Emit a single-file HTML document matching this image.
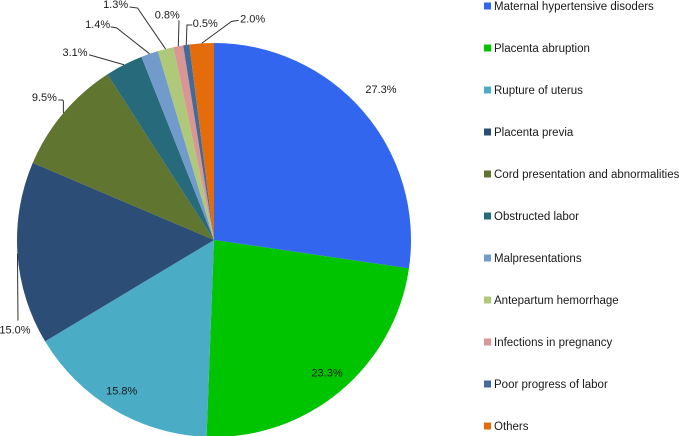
<!DOCTYPE html>
<html lang="en">
<head>
<meta charset="utf-8">
<title>Causes pie chart</title>
<style>
html,body{margin:0;padding:0;background:#fff;}
body{width:679px;height:436px;overflow:hidden;}
svg{display:block;filter:blur(0.3px);}
text{font-family:"Liberation Sans",sans-serif;fill:#1a1a1a;}
</style>
</head>
<body>
<svg id="chart" xmlns="http://www.w3.org/2000/svg" width="679" height="436" viewBox="0 0 679 436"></svg>
<script>
const categories = ["Maternal hypertensive disoders","Placenta abruption","Rupture of uterus","Placenta previa","Cord presentation and abnormalities","Obstructed labor","Malpresentations","Antepartum hemorrhage","Infections in pregnancy","Poor progress of labor","Others"];
const values = [27.3,23.3,15.8,15.0,9.5,3.1,1.4,1.3,0.8,0.5,2.0];
const valueLabels = ["27.3%","23.3%","15.8%","15.0%","9.5%","3.1%","1.4%","1.3%","0.8%","0.5%","2.0%"];
const colors = ["#3366ee","#00c400","#4bacc6","#2c4d75","#5f7530","#276a7c","#729aca","#afc97a","#d99694","#426a9b","#e46c0a"];

const NS = "http://www.w3.org/2000/svg";
const svg = document.getElementById("chart");
const CX = 214, CY = 240, R = 197;
const total = values.reduce(function (a, b) { return a + b; }, 0);

function angleOf(v) { return v / total * Math.PI * 2; }
function polarX(a, r) { return CX + r * Math.sin(a); }
function polarY(a, r) { return CY - r * Math.cos(a); }

/* Label placement relative to each slice's outer-edge midpoint: [label dx, label dy, leader points...] */
const labelLayout = [
  {dx:18, dy:-22, leader:[]},
  {dx:-13, dy:-19, leader:[]},
  {dx:8, dy:-19, leader:[]},
  {dx:-2.5, dy:76, leader:[[0.5,67]]},
  {dx:-19, dy:-16, leader:[[0,-12],[-1,-13],[-5,-13]]},
  {dx:-49, dy:-13, leader:[[-35,-10]]},
  {dx:-52, dy:-30, leader:[[-33,-26],[-39,-27]]},
  {dx:-50, dy:-45, leader:[[-28,-41],[-36,-42]]},
  {dx:-11, dy:-32, leader:[[0.7,-26]]},
  {dx:19, dy:-22, leader:[[0.7,-20],[6,-20]]},
  {dx:51, dy:-25, leader:[[30,-22],[37,-23]]}
];

let cumulative = 0;
const slices = document.createElementNS(NS, "g");


svg.appendChild(slices);
const labels = document.createElementNS(NS, "g");


svg.appendChild(labels);

values.forEach(function (v, i) {
  const a0 = angleOf(cumulative);
  const a1 = angleOf(cumulative + v);
  const mid = (a0 + a1) / 2;
  cumulative += v;

  const slice = document.createElementNS(NS, "path");
  const large = a1 - a0 > Math.PI ? 1 : 0;
  slice.setAttribute("d", "M" + CX + " " + CY + " L" + polarX(a0, R) + " " + polarY(a0, R) + " A" + R + " " + R + " 0 " + large + " 1 " + polarX(a1, R) + " " + polarY(a1, R) + " Z");
  slice.setAttribute("fill", colors[i]);
  
  
  slices.appendChild(slice);

  const ax = polarX(mid, R);
  const ay = polarY(mid, R);
  const layout = labelLayout[i];

  if (layout.leader.length) {
    const line = document.createElementNS(NS, "polyline");
    const pts = [[ax, ay]].concat(layout.leader.map(function (p) { return [ax + p[0], ay + p[1]]; }));
    line.setAttribute("points", pts.map(function (p) { return p.join(","); }).join(" "));
    line.setAttribute("fill", "none");
    line.setAttribute("stroke", "#333");
    line.setAttribute("stroke-width", "1");
    
    
    labels.appendChild(line);
  }

  const label = document.createElementNS(NS, "text");
  label.setAttribute("x", ax + layout.dx);
  label.setAttribute("y", ay + layout.dy + 4);
  label.setAttribute("text-anchor", "middle");
  label.setAttribute("font-size", "11");
  label.textContent = valueLabels[i];
  
  
  labels.appendChild(label);
});

const legend = document.createElementNS(NS, "g");


svg.appendChild(legend);

categories.forEach(function (name, i) {
  const y = 6 + i * 42;
  const entry = document.createElementNS(NS, "g");
  
  

  const swatch = document.createElementNS(NS, "rect");
  swatch.setAttribute("x", 484);
  swatch.setAttribute("y", y - 3.5);
  swatch.setAttribute("width", 7);
  swatch.setAttribute("height", 7);
  swatch.setAttribute("fill", colors[i]);
  
  
  entry.appendChild(swatch);

  const text = document.createElementNS(NS, "text");
  text.setAttribute("x", 494);
  text.setAttribute("y", y + 4);
  text.setAttribute("font-size", "11.5");
  text.textContent = name;
  
  
  entry.appendChild(text);

  legend.appendChild(entry);
});
</script>
</body>
</html>
